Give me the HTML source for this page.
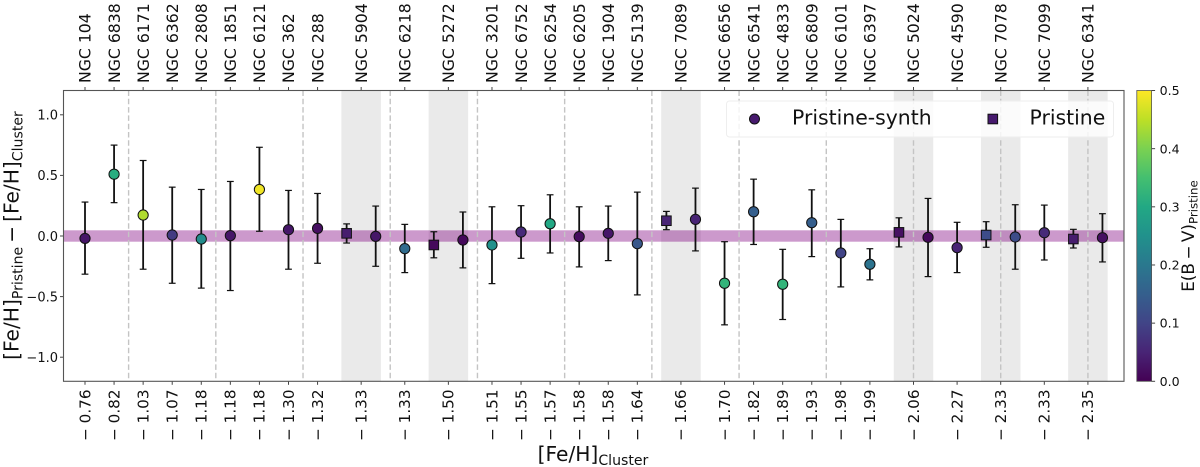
<!DOCTYPE html>
<html lang="en">
<head>
<meta charset="utf-8">
<title>Pristine metallicity comparison</title>
<style>
html,body{margin:0;padding:0;background:#fff;width:1200px;height:467px;overflow:hidden}
svg{display:block;filter:blur(0.3px)}
text{font-family:"DejaVu Sans","Liberation Sans",sans-serif;fill:#111}
</style>
</head>
<body>
<svg id="chart" xmlns="http://www.w3.org/2000/svg" width="1200" height="467" viewBox="0 0 1200 467">
  <defs>
    <linearGradient id="viridis" x1="0" y1="1" x2="0" y2="0">
      <stop offset="0" stop-color="#440154"/><stop offset="0.1" stop-color="#482475"/>
      <stop offset="0.2" stop-color="#414487"/><stop offset="0.3" stop-color="#355f8d"/>
      <stop offset="0.4" stop-color="#2a788e"/><stop offset="0.5" stop-color="#21918c"/>
      <stop offset="0.6" stop-color="#22a884"/><stop offset="0.7" stop-color="#44bf70"/>
      <stop offset="0.8" stop-color="#7ad151"/><stop offset="0.9" stop-color="#bddf26"/>
      <stop offset="1" stop-color="#fde725"/>
    </linearGradient>
  </defs>
  <rect x="0" y="0" width="1200" height="467" fill="#fff"/>
  <g id="bands"></g>
  <rect id="zero-band" fill="#800080" fill-opacity="0.4"/>
  <g id="separators"></g>
  <g id="errors"></g>
  <g id="markers"></g>
  <g id="top-axis"></g>
  <g id="bottom-axis"></g>
  <g id="y-axis"></g>

  <g>
    <rect x="726.5" y="101" width="387" height="36" rx="3" fill="#fff" fill-opacity="0.8" stroke="#eeeeee" stroke-width="1"/>
    <circle cx="754.5" cy="119" r="5" fill="#471a6e" stroke="#111" stroke-width="1"/>
    <text x="792" y="124.5" font-size="20.4">Pristine-synth</text>
    <rect x="988" y="114.2" width="9.6" height="9.6" fill="#471a6e" stroke="#111" stroke-width="1"/>
    <text x="1029.5" y="124.5" font-size="20.4">Pristine</text>
  </g>

  <rect id="frame" fill="none" stroke="#555" stroke-width="1.1"/>

  <text transform="translate(18.5,235.5) rotate(-90)" text-anchor="middle" font-size="20.2">[Fe/H]<tspan font-size="14.1" dy="4">Pristine</tspan><tspan dy="-4" dx="4">−</tspan><tspan dx="4">[Fe/H]</tspan><tspan font-size="14.1" dy="4">Cluster</tspan></text>
  <text x="593" y="461" text-anchor="middle" font-size="20.2">[Fe/H]<tspan font-size="14.1" dy="4">Cluster</tspan></text>

  <rect id="colorbar" fill="url(#viridis)" stroke="#555" stroke-width="0.8"/>
  <g id="colorbar-axis"></g>
  <text transform="translate(1194,236) rotate(-90)" text-anchor="middle" font-size="16.8">E(B<tspan dx="3.5">−</tspan><tspan dx="3.5">V)</tspan><tspan font-size="11.8" dy="3.5">Pristine</tspan></text>
</svg>
<script>
const clusterNames = ["NGC 104","NGC 6838","NGC 6171","NGC 6362","NGC 2808","NGC 1851","NGC 6121","NGC 362","NGC 288","NGC 5904","NGC 6218","NGC 5272","NGC 3201","NGC 6752","NGC 6254","NGC 6205","NGC 1904","NGC 5139","NGC 7089","NGC 6656","NGC 6541","NGC 4833","NGC 6809","NGC 6101","NGC 6397","NGC 5024","NGC 4590","NGC 7078","NGC 7099","NGC 6341"];
const clusterFeH = [-0.76,-0.82,-1.03,-1.07,-1.18,-1.18,-1.18,-1.30,-1.32,-1.33,-1.33,-1.50,-1.51,-1.55,-1.57,-1.58,-1.58,-1.64,-1.66,-1.70,-1.82,-1.89,-1.93,-1.98,-1.99,-2.06,-2.27,-2.33,-2.33,-2.35];
const synthValues = [-0.02,0.51,0.173,0.008,-0.025,0.003,0.384,0.052,0.063,-0.003,-0.104,-0.033,-0.074,0.033,0.101,-0.005,0.022,-0.063,0.137,-0.39,0.2,-0.398,0.11,-0.14,-0.233,-0.011,-0.096,-0.008,0.027,-0.014];
const synthUpper = [0.28,0.75,0.623,0.403,0.384,0.45,0.732,0.376,0.351,0.247,0.096,0.198,0.241,0.25,0.34,0.241,0.247,0.362,0.395,-0.047,0.469,-0.11,0.381,0.137,-0.105,0.31,0.113,0.258,0.255,0.184];
const synthLower = [-0.315,0.275,-0.274,-0.39,-0.43,-0.45,0.039,-0.274,-0.225,-0.25,-0.302,-0.263,-0.393,-0.184,-0.14,-0.255,-0.203,-0.486,-0.123,-0.733,-0.07,-0.689,-0.17,-0.42,-0.362,-0.335,-0.302,-0.274,-0.198,-0.214];
const clusterEbv = [0.03,0.31,0.44,0.085,0.24,0.03,0.49,0.03,0.02,0.03,0.175,0.01,0.25,0.06,0.3,0.015,0.03,0.135,0.05,0.325,0.15,0.325,0.15,0.1,0.19,0.01,0.05,0.115,0.06,0.02];
const pristineNames = ["NGC 5904","NGC 5272","NGC 7089","NGC 5024","NGC 7078","NGC 6341"];
const pristineValues = [0.022,-0.074,0.126,0.03,0.008,-0.025];
const pristineUpper = [0.1,0.035,0.203,0.15,0.118,0.055];
const pristineLower = [-0.058,-0.18,0.052,-0.09,-0.093,-0.099];
const pristineEbv = [0.04,0.01,0.05,0.02,0.115,0.04];
const yTicks = [1.0,0.5,0.0,-0.5,-1.0];
const colorbarTicks = [0.0,0.1,0.2,0.3,0.4,0.5];
const viridisStops = ["#440154","#482475","#414487","#355f8d","#2a788e","#21918c","#22a884","#44bf70","#7ad151","#bddf26","#fde725"];

const NS = "http://www.w3.org/2000/svg";
const plot = {left:63.5, right:1124, top:90.5, bottom:381.3};
const bar = {left:1136.8, right:1151.6};
const unitX = 29.07, originX = 85;
const X = k => originX + unitX * k;
const Y = v => 236 - 121.2 * v;
const C = e => 381.3 - (e / 0.5) * 290.8;

function make(parentId, tag, props, text){
  const el = document.createElementNS(NS, tag);
  for (const key in props) el.setAttribute(key, props[key]);
  if (text !== undefined) el.textContent = text;
  document.getElementById(parentId).appendChild(el);
  return el;
}
function viridis(e){
  const t = Math.max(0, Math.min(1, e / 0.5)) * (viridisStops.length - 1);
  const i = Math.min(Math.floor(t), viridisStops.length - 2), f = t - i;
  const parse = h => [1,3,5].map(p => parseInt(h.substr(p,2),16));
  const a = parse(viridisStops[i]), b = parse(viridisStops[i+1]);
  return "rgb(" + a.map((v,n) => Math.round(v + (b[n]-v)*f)).join(",") + ")";
}

/* slot position: clusters with a Pristine comparison take 1.5 units either side */
const hasPristine = n => pristineNames.includes(n);
const slots = [];
clusterNames.forEach((n,i) => {
  if (i === 0) { slots.push(0); return; }
  const wide = hasPristine(n) || hasPristine(clusterNames[i-1]);
  slots.push(slots[i-1] + (wide ? 1.5 : 1));
});

const frame = document.getElementById("frame");
frame.setAttribute("x", plot.left);
frame.setAttribute("y", plot.top);
frame.setAttribute("width", plot.right - plot.left);
frame.setAttribute("height", plot.bottom - plot.top);

const zero = document.getElementById("zero-band");
zero.setAttribute("x", plot.left);
zero.setAttribute("width", plot.right - plot.left);
zero.setAttribute("y", Y(0.047));
zero.setAttribute("height", Y(-0.047) - Y(0.047));

pristineNames.forEach(n => {
  const k = slots[clusterNames.indexOf(n)];
  const band = make("bands", "rect", {x:X(k-0.68), y:plot.top, width:X(k+0.68)-X(k-0.68), height:plot.bottom-plot.top, fill:"#808080", "fill-opacity":0.17});
  
  
});

const lastSlot = slots[slots.length-1];
for (let k = 1.5; k <= lastSlot; k += 3) {
  const sep = make("separators", "line", {x1:X(k), x2:X(k), y1:plot.top, y2:plot.bottom, stroke:"#c4c4c4", "stroke-width":1.4, "stroke-dasharray":"5.5 2.8"});
  
  
}

function errorBar(x, lo, hi){
  const stem = make("errors", "line", {x1:x, x2:x, y1:Y(hi), y2:Y(lo), stroke:"#111", "stroke-width":1.8});
  
  
  [hi, lo].forEach(v => {
    const cap = make("errors", "line", {x1:x-3.4, x2:x+3.4, y1:Y(v), y2:Y(v), stroke:"#111", "stroke-width":1.2});
    
    
  });
}

clusterNames.forEach((n,i) => {
  const k = slots[i];
  const pairIndex = pristineNames.indexOf(n);
  const xc = X(pairIndex >= 0 ? k + 0.5 : k);
  errorBar(xc, synthLower[i], synthUpper[i]);
  if (pairIndex >= 0) errorBar(X(k - 0.5), pristineLower[pairIndex], pristineUpper[pairIndex]);
});
clusterNames.forEach((n,i) => {
  const k = slots[i];
  const pairIndex = pristineNames.indexOf(n);
  const xc = X(pairIndex >= 0 ? k + 0.5 : k);
  const dot = make("markers", "circle", {cx:xc, cy:Y(synthValues[i]), r:5.1, fill:viridis(clusterEbv[i]), stroke:"#111", "stroke-width":1});
  
  
  if (pairIndex >= 0) {
    const xs = X(k - 0.5), ys = Y(pristineValues[pairIndex]);
    const sq = make("markers", "rect", {x:xs-4.8, y:ys-4.8, width:9.6, height:9.6, fill:viridis(pristineEbv[pairIndex]), stroke:"#111", "stroke-width":1});
    
    
  }
  const xt = X(k);
  const topTick = make("top-axis", "line", {x1:xt, x2:xt, y1:plot.top, y2:plot.top-3.5, stroke:"#444", "stroke-width":1});
  
  
  const topLabel = make("top-axis", "text", {transform:"translate("+(xt+5.7)+",83) rotate(-90)", "font-size":15.7}, n);
  
  
  const botTick = make("bottom-axis", "line", {x1:xt, x2:xt, y1:plot.bottom, y2:plot.bottom+3.5, stroke:"#444", "stroke-width":1});
  
  
  const botLabel = make("bottom-axis", "text", {transform:"translate("+(xt+5.3)+",389.5) rotate(-90)", "font-size":15.2, "text-anchor":"end"}, "− " + Math.abs(clusterFeH[i]).toFixed(2));
  
  
});

yTicks.forEach(v => {
  const tick = make("y-axis", "line", {x1:plot.left-3.5, x2:plot.left, y1:Y(v), y2:Y(v), stroke:"#444", "stroke-width":1});
  
  
  const lab = make("y-axis", "text", {x:plot.left-5.5, y:Y(v)+4.8, "font-size":13, "text-anchor":"end"}, (v < 0 ? "−" : "") + Math.abs(v).toFixed(1));
  
  
});

const cb = document.getElementById("colorbar");
cb.setAttribute("x", bar.left);
cb.setAttribute("y", plot.top);
cb.setAttribute("width", bar.right - bar.left);
cb.setAttribute("height", plot.bottom - plot.top);

colorbarTicks.forEach(v => {
  const tick = make("colorbar-axis", "line", {x1:bar.right, x2:bar.right+3.5, y1:C(v), y2:C(v), stroke:"#444", "stroke-width":1});
  
  
  const lab = make("colorbar-axis", "text", {x:bar.right+8, y:C(v)+4.6, "font-size":12.6}, v.toFixed(1));
  
  
});
</script>
</body>
</html>
